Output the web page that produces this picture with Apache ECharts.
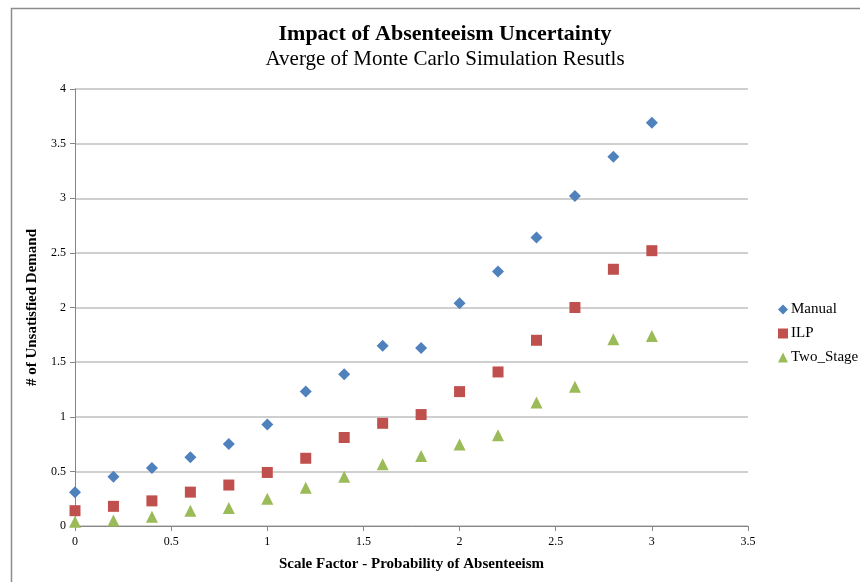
<!DOCTYPE html>
<html>
<head>
<meta charset="utf-8">
<script src="https://cdn.jsdelivr.net/npm/echarts@6/dist/echarts.min.js"></script>
<style>
  html, body { margin: 0; padding: 0; background: #fff; }
  #chart { width: 860px; height: 582px; }
</style>
</head>
<body>
<div id="chart"></div>
<script>
// Scale factor applied to absenteeism probability
const scaleFactors = [0, 0.2, 0.4, 0.6, 0.8, 1.0, 1.2, 1.4, 1.6, 1.8, 2.0, 2.2, 2.4, 2.6, 2.8, 3.0];

// Average unsatisfied demand per method
const manualValues   = [0.31, 0.45, 0.53, 0.63, 0.75, 0.93, 1.23, 1.39, 1.65, 1.63, 2.04, 2.33, 2.64, 3.02, 3.38, 3.69];
const ilpValues      = [0.14, 0.18, 0.23, 0.31, 0.375, 0.49, 0.62, 0.81, 0.94, 1.02, 1.23, 1.41, 1.70, 2.00, 2.35, 2.52];
const twoStageValues = [0.04, 0.05, 0.085, 0.14, 0.165, 0.25, 0.35, 0.45, 0.565, 0.64, 0.745, 0.83, 1.13, 1.275, 1.71, 1.74];

const pairs = (xs, ys) => xs.map((x, i) => [x, ys[i]]);

const serif = '"Liberation Serif", "DejaVu Serif", serif';
const axisGray = '#868686';
const gridGray = '#bfbfbf';

const chart = echarts.init(document.getElementById('chart'), null, { renderer: 'canvas' });

chart.setOption({
  backgroundColor: '#fff',
  animation: false,
  graphic: [
    {
      type: 'polyline',
      shape: { points: [[11.5, 582], [11.5, 8.5], [860, 8.5]] },
      style: { fill: 'none', stroke: '#8c8c8c', lineWidth: 1.5 }
    }
  ],
  title: {
    text: 'Impact of Absenteeism Uncertainty',
    subtext: 'Averge of Monte Carlo Simulation Resutls',
    left: 440,
    top: 18,
    textAlign: 'center',
    itemGap: 4,
    textStyle: { fontFamily: serif, fontSize: 22, fontWeight: 'bold', color: '#000' },
    subtextStyle: { fontFamily: serif, fontSize: 21, color: '#000' }
  },
  legend: {
    orient: 'vertical',
    left: 773,
    top: 297,
    itemWidth: 10,
    itemHeight: 10,
    itemGap: 9,
    textStyle: { fontFamily: serif, fontSize: 15, color: '#000', padding: [0, 0, 0, -2] },
    data: ['Manual', 'ILP', 'Two_Stage']
  },
  grid: { left: 75, right: 112, top: 89, bottom: 56, containLabel: false },
  xAxis: {
    type: 'value',
    min: 0,
    max: 3.5,
    interval: 0.5,
    name: 'Scale Factor - Probability of Absenteeism',
    nameLocation: 'middle',
    nameGap: 31,
    nameTextStyle: { fontFamily: serif, fontSize: 15, fontWeight: 'bold', color: '#000' },
    axisLine: { show: true, lineStyle: { color: axisGray, width: 1 } },
    axisTick: { show: true, inside: false, length: 5, lineStyle: { color: axisGray } },
    axisLabel: { fontFamily: serif, fontSize: 12, color: '#000', margin: 10 },
    splitLine: { show: false }
  },
  yAxis: {
    type: 'value',
    min: 0,
    max: 4,
    interval: 0.5,
    name: '# of Unsatisfied Demand',
    nameLocation: 'middle',
    nameGap: 32,
    nameTextStyle: { fontFamily: serif, fontSize: 15, fontWeight: 'bold', color: '#000' },
    axisLine: { show: true, lineStyle: { color: axisGray, width: 1 } },
    axisTick: { show: true, inside: false, length: 5, lineStyle: { color: axisGray } },
    axisLabel: { fontFamily: serif, fontSize: 12, color: '#000', margin: 9 },
    splitLine: { show: true, lineStyle: { color: gridGray, width: 1.5 } }
  },
  series: [
    {
      name: 'Manual',
      type: 'scatter',
      symbol: 'diamond',
      symbolSize: 12,
      itemStyle: { color: '#4f81bd', opacity: 1 },
      data: pairs(scaleFactors, manualValues)
    },
    {
      name: 'ILP',
      type: 'scatter',
      symbol: 'rect',
      symbolSize: 11,
      itemStyle: { color: '#c0504d', opacity: 1 },
      data: pairs(scaleFactors, ilpValues)
    },
    {
      name: 'Two_Stage',
      type: 'scatter',
      symbol: 'triangle',
      symbolSize: 12,
      itemStyle: { color: '#9bbb59', opacity: 1 },
      data: pairs(scaleFactors, twoStageValues)
    }
  ]
});
</script>
</body>
</html>
